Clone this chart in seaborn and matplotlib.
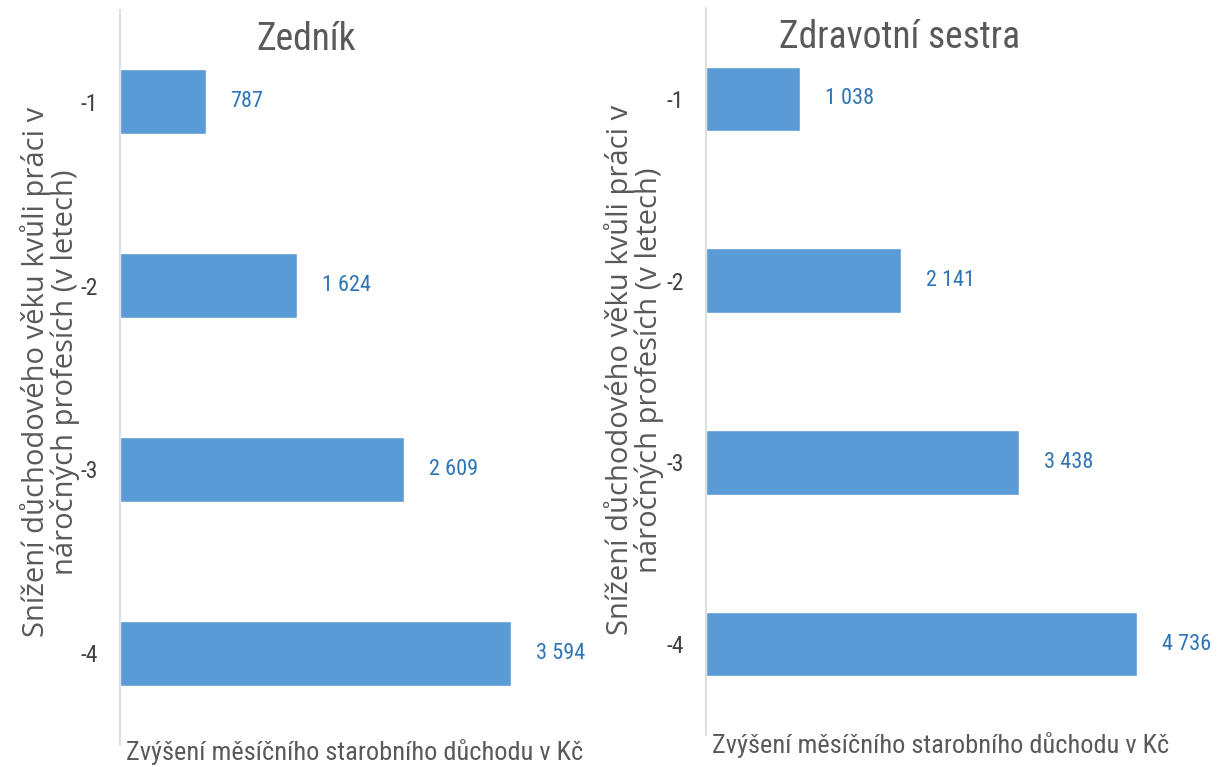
import matplotlib
matplotlib.use('Agg')
from matplotlib import pyplot as plt
from matplotlib import font_manager
import seaborn as sns
import pandas as pd

# data
years = ['-1', '-2', '-3', '-4']
zednik = [787, 1624, 2609, 3594]
sestra = [1038, 2141, 3438, 4736]
titles = ['Zedník', 'Zdravotní sestra']
ylabel = 'Snížení důchodového věku kvůli práci v\nnáročných profesích (v letech)'
xlabel = 'Zvýšení měsíčního starobního důchodu v Kč'

BAR = '#5B9BD5'
VAL = '#2E75B6'
GREY = '#595959'

installed = {f.name for f in font_manager.fontManager.ttflist}
narrow = next((f for f in ['Roboto Condensed', 'Liberation Sans Narrow', 'DejaVu Sans Condensed']
               if f in installed), 'DejaVu Sans')

sns.set_theme(style='white')
plt.rcParams['font.family'] = ['Open Sans', 'DejaVu Sans']

W, H = 1224, 767
fig = plt.figure(figsize=(W / 100, H / 100), dpi=100)


def px_axes(left, top, right, bottom):
    return fig.add_axes([left / W, 1 - bottom / H, (right - left) / W, (bottom - top) / H])


panels = [
    dict(vals=zednik, title=titles[0], box=(120, 10, 590, 745), xmax=4320,
         title_xy=(306, 40), ylab_x=50, ylab_y=372, xlab_xy=(355, 752)),
    dict(vals=sestra, title=titles[1], box=(706, 8, 1200, 735), xmax=5430,
         title_xy=(900, 38), ylab_x=634, ylab_y=370, xlab_xy=(941, 745)),
]

for p in panels:
    ax = px_axes(*p['box'])
    df = pd.DataFrame({'roky': years, 'castka': p['vals']})
    sns.barplot(data=df, x='castka', y='roky', order=years, color=BAR,
                width=0.354, saturation=1, ax=ax)
    ax.set_xlim(0, p['xmax'])
    ax.set_ylim(3.5, -0.5)
    for c in ax.containers:
        ax.bar_label(c, labels=[f'{v:,}'.replace(',', ' ') for v in p['vals']],
                     padding=18, color=VAL, fontsize=16, family=[narrow, 'DejaVu Sans'])
    for s in ['top', 'right', 'bottom']:
        ax.spines[s].set_visible(False)
    ax.spines['left'].set_color('#D9D9D9')
    ax.set_xticks([])
    ax.set_xlabel('')
    ax.set_ylabel('')
    ax.tick_params(axis='y', length=0, pad=16)
    for t in ax.get_yticklabels():
        t.set_fontsize(17)
        t.set_family([narrow, 'DejaVu Sans'])
        t.set_color('#404040')
    fig.text(p['title_xy'][0] / W, 1 - p['title_xy'][1] / H, p['title'],
             ha='center', va='center', fontsize=27, color=GREY, family=[narrow, 'DejaVu Sans'])
    fig.text(p['ylab_x'] / W, 1 - p['ylab_y'] / H, ylabel, rotation=90,
             ha='center', va='center', fontsize=21, color=GREY, linespacing=0.95,
             multialignment='center')
    fig.text(p['xlab_xy'][0] / W, 1 - p['xlab_xy'][1] / H, xlabel,
             ha='center', va='center', fontsize=19, color=GREY, family=[narrow, 'DejaVu Sans'])

fig.savefig('out.png', dpi=100)
